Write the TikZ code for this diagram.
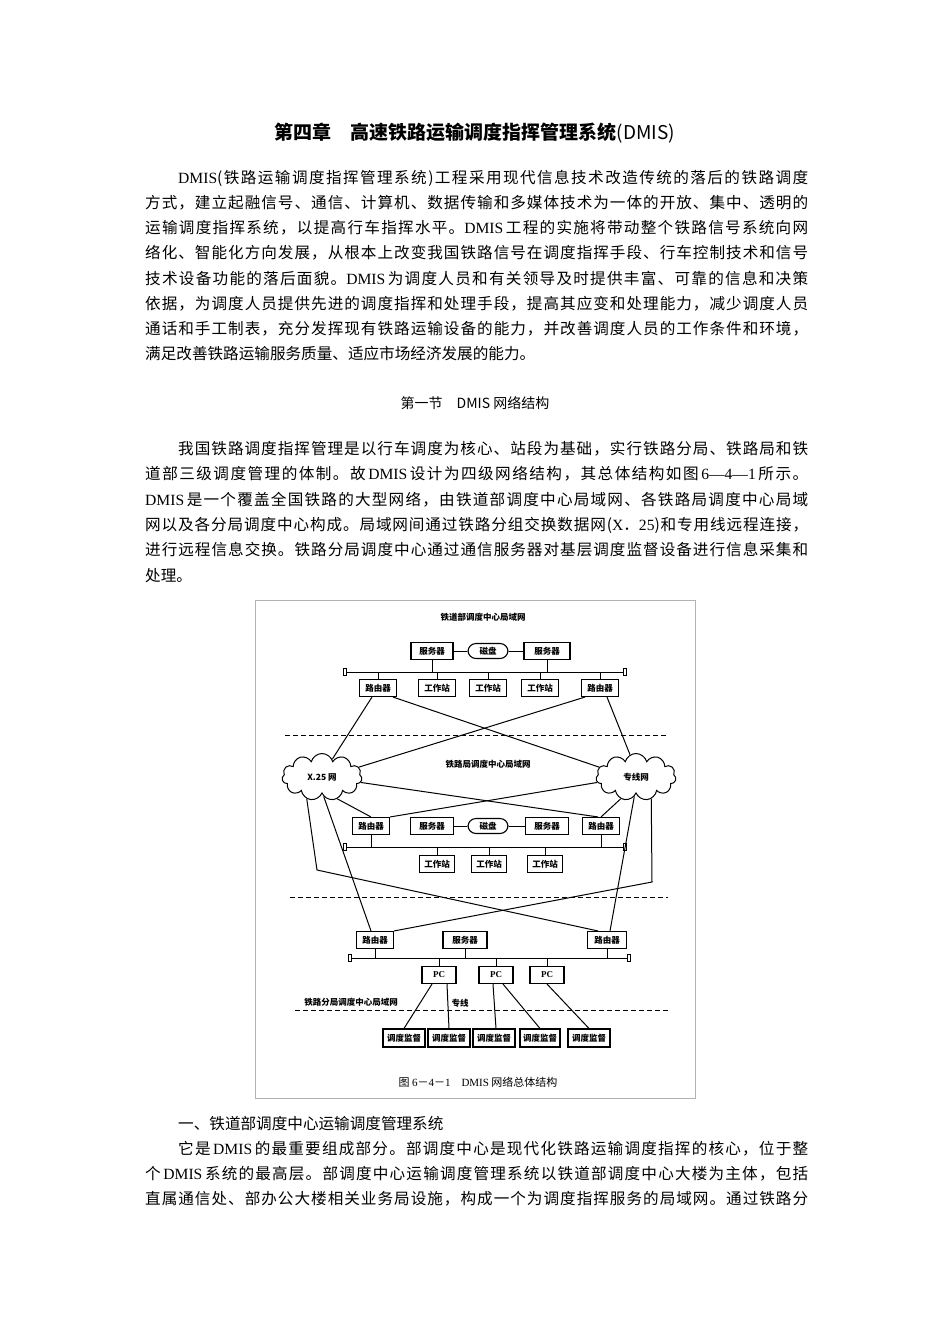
\documentclass[tikz,border=0pt]{standalone}
\usepackage{fontspec}
\setmainfont{Noto Sans CJK SC}
\newfontfamily\lat{Liberation Serif}
\usetikzlibrary{shapes.symbols,calc}
\XeTeXinterchartokenstate=1
\newXeTeXintercharclass\cjkcls
\newcount\cc
\cc="4E00 \loop\ifnum\cc<"9FA6 \XeTeXcharclass\cc=\cjkcls \advance\cc by 1 \repeat
\cc="3000 \loop\ifnum\cc<"3040 \XeTeXcharclass\cc=\cjkcls \advance\cc by 1 \repeat
\cc="FF00 \loop\ifnum\cc<"FF60 \XeTeXcharclass\cc=\cjkcls \advance\cc by 1 \repeat
\XeTeXinterchartoks\cjkcls\cjkcls={\hskip0pt plus 1pt\relax}
\XeTeXinterchartoks\cjkcls 0={\hskip0pt plus 1pt\relax}
\XeTeXinterchartoks 0\cjkcls={\hskip0pt plus 1pt\relax}
\newcommand{\D}{{\lat DMIS}}
\begin{document}
\begin{tikzpicture}[x=1pt,y=-1pt,
 bx/.style={draw,line width=1.1pt,inner sep=1pt,minimum height=17pt,font=\fontsize{8.5}{9}\selectfont\bfseries},
 lbl/.style={font=\fontsize{8.5}{9}\selectfont\bfseries,inner sep=1pt},
 ln/.style={line width=1pt},
 dsh/.style={line width=1pt,dash pattern=on 5pt off 3pt},
 endcap/.style={draw,line width=0.8pt,minimum width=3pt,minimum height=7pt,inner sep=0pt},
 cl/.style={cloud,cloud puffs=11,aspect=1.7,draw,line width=1pt,minimum width=80pt,minimum height=47pt,inner sep=0pt,font=\fontsize{8.5}{9}\selectfont\bfseries},
 body/.style={anchor=base west,inner sep=0pt,font=\fontsize{15.6}{16}\selectfont}]
\useasboundingbox[fill=white] (0,0) rectangle (950,1344);
% title
\node[font=\fontsize{19}{20}\selectfont\bfseries,inner sep=0pt] (title) at (475,133) {第四章\hspace{1em}高速铁路运输调度指挥管理系统{\mdseries(DMIS)}};
% para 1
\node[body] (a1) at (178,183) {\makebox[630pt][s]{\D(铁路运输调度指挥管理系统)工程采用现代信息技术改造传统的落后的铁路调度}};
\node[body] (a2) at (145,208) {\makebox[663pt][s]{方式，建立起融信号、通信、计算机、数据传输和多媒体技术为一体的开放、集中、透明的}};
\node[body] (a3) at (145,233) {\makebox[663pt][s]{运输调度指挥系统，以提高行车指挥水平。\D\,工程的实施将带动整个铁路信号系统向网}};
\node[body] (a4) at (145,258) {\makebox[663pt][s]{络化、智能化方向发展，从根本上改变我国铁路信号在调度指挥手段、行车控制技术和信号}};
\node[body] (a5) at (145,284) {\makebox[663pt][s]{技术设备功能的落后面貌。\D\,为调度人员和有关领导及时提供丰富、可靠的信息和决策}};
\node[body] (a6) at (145,309) {\makebox[663pt][s]{依据，为调度人员提供先进的调度指挥和处理手段，提高其应变和处理能力，减少调度人员}};
\node[body] (a7) at (145,334) {\makebox[663pt][s]{通话和手工制表，充分发挥现有铁路运输设备的能力，并改善调度人员的工作条件和环境，}};
\node[body] (a8) at (145,359) {满足改善铁路运输服务质量、适应市场经济发展的能力。};
% section
\node[font=\fontsize{14}{15}\selectfont,inner sep=0pt] (sec) at (475,403) {第一节\hspace{1em}DMIS 网络结构};
\node[body] (b1) at (178,454) {\makebox[630pt][s]{我国铁路调度指挥管理是以行车调度为核心、站段为基础，实行铁路分局、铁路局和铁}};
\node[body] (b2) at (145,479) {\makebox[663pt][s]{道部三级调度管理的体制。故\,\D\,设计为四级网络结构，其总体结构如图\,{\lat 6—4—1}\,所示。}};
\node[body] (b3) at (145,505) {\makebox[663pt][s]{\D\,是一个覆盖全国铁路的大型网络，由铁道部调度中心局域网、各铁路局调度中心局域}};
\node[body] (b4) at (145,530) {\makebox[663pt][s]{网以及各分局调度中心构成。局域网间通过铁路分组交换数据网({\lat X}．{\lat 25})和专用线远程连接，}};
\node[body] (b5) at (145,555) {\makebox[663pt][s]{进行远程信息交换。铁路分局调度中心通过通信服务器对基层调度监督设备进行信息采集和}};
\node[body] (b6) at (145,581) {处理。};
% bottom text
\node[body] (c1) at (178,1129) {一、铁道部调度中心运输调度管理系统};
\node[body] (c2) at (178,1154) {\makebox[630pt][s]{它是\,\D\,的最重要组成部分。部调度中心是现代化铁路运输调度指挥的核心，位于整}};
\node[body] (c3) at (145,1179) {\makebox[663pt][s]{个\,\D\,系统的最高层。部调度中心运输调度管理系统以铁道部调度中心大楼为主体，包括}};
\node[body] (c4) at (145,1204) {\makebox[663pt][s]{直属通信处、部办公大楼相关业务局设施，构成一个为调度指挥服务的局域网。通过铁路分}};
% ===== diagram frame
\draw[gray!60,line width=1pt] (255,600) rectangle (695,1098);
\node[lbl] (t1) at (483,617) {铁道部调度中心局域网};
% level 1
\node[bx,minimum width=42pt] (s1) at (432,651) {服务器};
\node[bx,rounded corners=8pt,minimum width=40pt,minimum height=15pt] (d1) at (488,651) {磁盘};
\node[bx,minimum width=46pt] (s2) at (547,651) {服务器};
\draw[ln] (s1)--(d1) (d1)--(s2);
\node[endcap] (e1) at (345,672) {}; \node[endcap] (e2) at (625,672) {};
\draw[ln] (e1)--(e2);
\node[bx,minimum width=37pt] (trl) at (378,688) {路由器};
\node[bx,minimum width=37pt] (w1) at (437,688) {工作站};
\node[bx,minimum width=37pt] (w2) at (488,688) {工作站};
\node[bx,minimum width=37pt] (w3) at (540,688) {工作站};
\node[bx,minimum width=37pt] (trr) at (600,688) {路由器};
\foreach \n in {trl,w1,w2,w3,trr} \draw[ln] (\n.north) -- (\n.north |- e1);
\draw[ln] (s1.south) -- (s1.south |- e1);
\draw[ln] (s2.south) -- (s2.south |- e1);
\draw[dsh] (285,735) -- (668,735);
% clouds
\node[cl] (x25) at (322,777) {X.25 网};
\node[cl] (zx) at (636,777) {专线网};
\node[lbl] (t2) at (488,764) {铁路局调度中心局域网};
% level 2
\node[bx,minimum width=37pt] (mrl) at (371,826) {路由器};
\node[bx,minimum width=43pt] (s3) at (432,826) {服务器};
\node[bx,rounded corners=8pt,minimum width=40pt,minimum height=15pt] (d2) at (488,826) {磁盘};
\node[bx,minimum width=43pt] (s4) at (547,826) {服务器};
\node[bx,minimum width=37pt] (mrr) at (601,826) {路由器};
\draw[ln] (s3)--(d2) (d2)--(s4);
\node[endcap] (e3) at (345,847) {}; \node[endcap] (e4) at (625,847) {};
\draw[ln] (e3)--(e4);
\draw[ln] (mrl.south) -- (mrl.south |- e3);
\draw[ln] (mrr.south) -- (mrr.south |- e3);
\node[bx,minimum width=35pt] (w4) at (437,864) {工作站};
\node[bx,minimum width=35pt] (w5) at (489,864) {工作站};
\node[bx,minimum width=35pt] (w6) at (545,864) {工作站};
\foreach \n in {w4,w5,w6} \draw[ln] (\n.north) -- (\n.north |- e3);
% level 1 <-> clouds
\draw[ln] ([xshift=-6pt]trl.south) -- (x25.60);
\draw[ln] ([xshift=15pt]trl.south) -- (zx.165);
\draw[ln] ([xshift=7pt]trr.south) -- (zx.105);
\draw[ln] ([xshift=-15pt]trr.south) -- (x25.15);
\draw[ln] (x25.-8) -- ([xshift=-3pt]mrr.north);
\draw[ln] (zx.188) -- (mrl.north east);
\draw[ln] (x25.305) -- (mrl.north);
\draw[ln] (zx.235) -- (mrr.north);
% level 3
\draw[dsh] (290,897) -- (668,897);
\node[bx,minimum width=37pt] (brl) at (375,940) {路由器};
\node[bx,minimum width=44pt] (s5) at (465,940) {服务器};
\node[bx,minimum width=39pt] (brr) at (607,940) {路由器};
\coordinate (k1) at (317,870);
\coordinate (k2) at (652,882);
\draw[ln] (x25.235) -- (k1) -- ([xshift=-9pt]brr.north);
\draw[ln] (x25.275) -- ([xshift=-4pt]brl.north);
\draw[ln] (zx.305) -- (k2) -- (brl.north east);
\draw[ln] (zx.265) -- ([xshift=3pt]brr.north);
\node[endcap] (e5) at (350,958) {}; \node[endcap] (e6) at (629,958) {};
\draw[ln] (e5)--(e6);
\foreach \n in {brl,s5,brr} \draw[ln] (\n.south) -- (\n.south |- e5);
\node[bx,minimum width=34pt,font=\fontsize{9}{9}\selectfont\lat\bfseries] (pc1) at (439,975) {PC};
\node[bx,minimum width=34pt,font=\fontsize{9}{9}\selectfont\lat\bfseries] (pc2) at (496,975) {PC};
\node[bx,minimum width=34pt,font=\fontsize{9}{9}\selectfont\lat\bfseries] (pc3) at (547,975) {PC};
\foreach \n in {pc1,pc2,pc3} \draw[ln] (\n.north) -- (\n.north |- e5);
\node[lbl] (t3) at (351,1002) {铁路分局调度中心局域网};
\node[lbl] (t4) at (460,1003) {专线};
\draw[dsh] (295,1010) -- (668,1010);
\node[bx,minimum width=42pt,minimum height=18pt] (m1) at (404,1038) {调度监督};
\node[bx,minimum width=42pt,minimum height=18pt] (m2) at (449,1038) {调度监督};
\node[bx,minimum width=42pt,minimum height=18pt] (m3) at (494,1038) {调度监督};
\node[bx,minimum width=40pt,minimum height=18pt] (m4) at (540,1038) {调度监督};
\node[bx,minimum width=42pt,minimum height=18pt] (m5) at (589,1038) {调度监督};
\draw[ln] ([xshift=-7pt]pc1.south) -- (m1.north);
\draw[ln] ([xshift=8pt]pc1.south) -- (m2.north);
\draw[ln] ([xshift=-3pt]pc2.south) -- (m3.north -| pc2.south);
\draw[ln] ([xshift=7pt]pc2.south) -- (m4.north);
\draw[ln] (pc3.south) -- (m5.north);
\node[font=\fontsize{11}{12}\selectfont,inner sep=0pt] (cap1) at (478,1082) {图 {\lat 6}－{\lat 4}－{\lat 1}\hspace{1em}{\lat DMIS} 网络总体结构};
\end{tikzpicture}
\end{document}
